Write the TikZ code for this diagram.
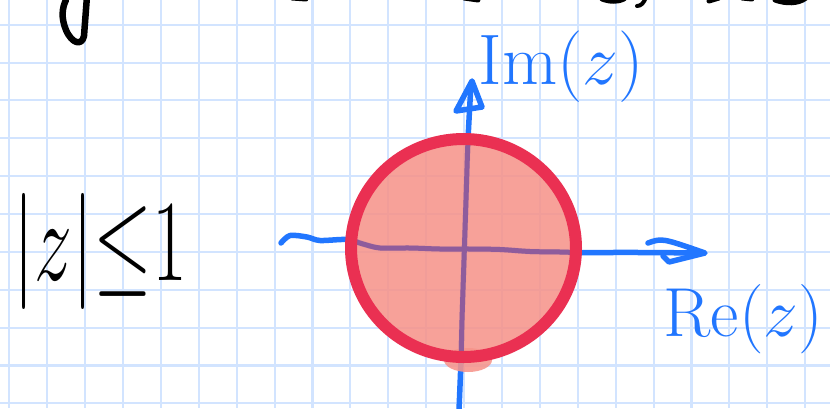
\documentclass[tikz,border=0pt]{standalone}
\usepackage{amsmath}
\begin{document}
\begin{tikzpicture}[x=1pt,y=-1pt,
  gridline/.style={draw=gridc, line width=2.1},
  axisline/.style={draw=axisblue, line width=5.5, line cap=round, line join=round},
  purpline/.style={draw=purp, line width=5, line cap=round, line join=round},
  inkline/.style={draw=black, line width=5, line cap=round, line join=round},
  bluelbl/.style={text=axisblue, inner sep=0pt, font=\huge, scale=3.45},
  blacklbl/.style={text=black, inner sep=0pt, font=\huge, xscale=3.65, yscale=5.6}]
\definecolor{gridc}{HTML}{D2E4FF}
\definecolor{axisblue}{HTML}{2176FF}
\definecolor{purp}{HTML}{8E5C9C}
\definecolor{fillc}{HTML}{F6948B}
\definecolor{ringc}{HTML}{EA3052}
\useasboundingbox (0,0) rectangle (830,408);
\fill[white] (0,0) rectangle (830,408);
\begin{scope}
\clip (0,0) rectangle (830,408);
% grid
\foreach \i in {0,...,21} \draw[gridline] ({9.3+37.9*\i},0) -- ++(0,408);
\foreach \j in {0,...,10} \draw[gridline] (0,{24.7+37.87*\j}) -- ++(830,0);
% cut-off handwriting at the top
\draw[inkline, line width=6.5] (87,-4) -- (84,36) .. controls (82,46) and (72,44) .. (66,30) .. controls (61,18) and (62,8) .. (66,0);
\draw[inkline] (292,-2) -- (306,-1);
\draw[inkline] (464,-2) -- (478,0);
\draw[inkline] (602,-1) .. controls (610,2) and (618,2) .. (624,-1);
\draw[inkline, line width=4] (646,-3) .. controls (644,3) and (641,6) .. (637,6);
\draw[inkline] (709,1) -- (719,-2);
\draw[inkline] (742,-2) -- (752,-1);
\draw[inkline] (775,0) .. controls (786,4) and (798,4) .. (806,-2);
% axes
\coordinate (c) at (463.5,248);
\draw[axisline] plot[smooth] coordinates {(281,243) (290,235.5) (307,237) (320,240.5) (347,239.5) (363,244) (380,248) (410,248) (440,249) (470,249) (500,249.5) (530,251.5) (560,252) (582,252.5) (640,252.5) (703,253)};
\draw[axisline] (648,243) .. controls (662,238) .. (705,253) -- (669,262) -- (663,256);
\draw[axisline] plot[smooth] coordinates {(471,84) (468,140) (466,200) (464,260) (462,320) (461,360) (459,410)};
\draw[axisline] (472,81) -- (456,111) -- (482,107) -- cycle;
% disc
\fill[fillc, opacity=0.88] (468,360) ellipse [x radius=24, y radius=12];
\fill[fillc, opacity=0.88] (c) ellipse [x radius=112.5, y radius=109];
\begin{scope}
\clip (c) ellipse [x radius=112.5, y radius=109];
\draw[purpline] plot[smooth] coordinates {(281,243) (290,235.5) (307,237) (320,240.5) (347,239.5) (363,244) (380,248) (410,248) (440,249) (470,249) (500,249.5) (530,251.5) (560,252) (582,252.5) (640,252.5) (703,253)};
\draw[purpline] plot[smooth] coordinates {(471,84) (468,140) (466,200) (464,260) (462,320) (461,360) (459,410)};
\end{scope}
\draw[draw=ringc, line width=12] (c) ellipse [x radius=112.5, y radius=109];
% labels
\node[bluelbl, anchor=base west] (im) at (478,84) {$\mathrm{Im}(z)$};
\node[bluelbl, scale=0.97, anchor=base west] (re) at (663,336) {$\mathrm{Re}(z)$};
\node[blacklbl] (abs) at (100,251) {$|z|{\leq}1$};
\end{scope}
\end{tikzpicture}
\end{document}
